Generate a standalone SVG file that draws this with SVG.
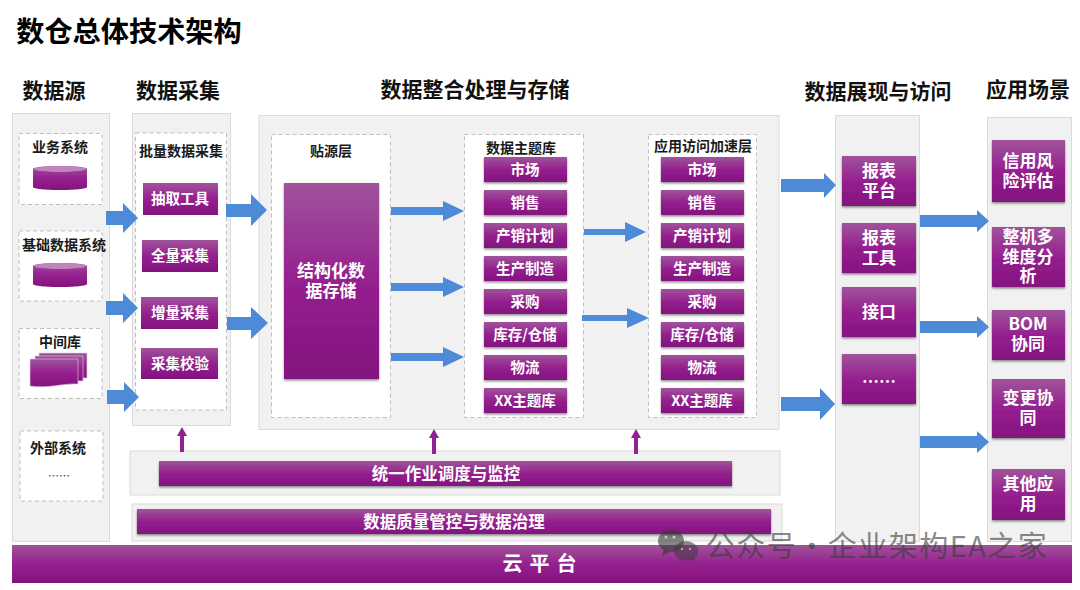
<svg xmlns="http://www.w3.org/2000/svg" width="1080" height="590" viewBox="0 0 1080 590">
<style>
text{font-family:"Noto Sans CJK SC","Liberation Sans",sans-serif;text-anchor:middle}
.panel{fill:#f1f1f1;stroke:#dadada;stroke-width:1}
.dash{fill:#fff;stroke:#bfbfbf;stroke-width:1;stroke-dasharray:4 3}
.btn{fill:url(#plum)}
.sh{filter:url(#lift)}
.head{font-size:21px;font-weight:700;fill:#111}
.sub{font-size:14px;font-weight:700;fill:#1a1a1a}
.w{fill:#fff;font-weight:700;font-size:14.500px}
.w2{fill:#fff;font-weight:700;font-size:17px}
.w3{fill:#fff;font-weight:700;font-size:16.500px}
.blue{fill:#4d8ad8}
.up{fill:#932191}
</style>
<defs>
<linearGradient id="plum" x1="0" y1="0" x2="0" y2="1">
<stop offset="0" stop-color="#a0549b"/><stop offset="0.5" stop-color="#95208f"/><stop offset="1" stop-color="#83127e"/>
</linearGradient>
<filter id="lift" x="-10%" y="-10%" width="120%" height="130%">
<feDropShadow dx="0" dy="1.5" stdDeviation="1" flood-color="#000" flood-opacity="0.45"/>
</filter>
<g id="cyl">
<path class="btn" d="M0 5C0 1 54 1 54 5V23C54 27 0 27 0 23Z"/>
<ellipse cx="27" cy="5" rx="26" ry="3" fill="#c184bd"/>
</g>
<path id="pg" class="btn" d="M0 0H48V25C32 24 18 30 0 27Z" stroke="#e6cfe5" stroke-width="0.6"/>
<g id="topics">
<rect class="btn sh" x="0" y="0" width="83" height="25"/><text class="w" x="41" y="18">市场</text>
<rect class="btn sh" x="0" y="33" width="83" height="25"/><text class="w" x="41" y="51">销售</text>
<rect class="btn sh" x="0" y="66" width="83" height="25"/><text class="w" x="41" y="84">产销计划</text>
<rect class="btn sh" x="0" y="99" width="83" height="25"/><text class="w" x="41" y="117">生产制造</text>
<rect class="btn sh" x="0" y="132" width="83" height="25"/><text class="w" x="41" y="150">采购</text>
<rect class="btn sh" x="0" y="165" width="83" height="25"/><text class="w" x="41" y="183">库存/仓储</text>
<rect class="btn sh" x="0" y="198" width="83" height="25"/><text class="w" x="41" y="216">物流</text>
<rect class="btn sh" x="0" y="231" width="83" height="25"/><text class="w" x="41" y="249">XX主题库</text>
</g>
</defs>
<rect width="1080" height="590" fill="#fff"/>
<text x="129" y="42" font-size="28.200" font-weight="700" fill="#000">数仓总体技术架构</text>
<g id="headings">
<text class="head" x="54" y="98">数据源</text>
<text class="head" x="178" y="98">数据采集</text>
<text class="head" x="475" y="97">数据整合处理与存储</text>
<text class="head" x="878" y="99">数据展现与访问</text>
<text class="head" x="1028" y="97">应用场景</text>
</g>
<g id="source">
<rect class="panel" x="12.500" y="113.500" width="97" height="428"/>
<rect class="dash" x="19" y="133.500" width="83" height="71"/>
<text class="sub" x="60" y="152">业务系统</text>
<use href="#cyl" x="33" y="164"/>
<rect class="dash" x="19" y="231" width="83" height="70"/>
<text class="sub" x="64" y="250">基础数据系统</text>
<use href="#cyl" x="33" y="261"/>
<rect class="dash" x="19" y="328.500" width="83" height="70"/>
<text class="sub" x="60" y="347">中间库</text>
<use href="#pg" x="39" y="353"/><use href="#pg" x="35" y="356"/><use href="#pg" x="30" y="359"/>
<rect class="dash" x="20" y="431" width="83" height="70"/>
<text class="sub" x="58" y="453">外部系统</text>
<text x="59" y="480" font-size="11" fill="#333">……</text>
</g>
<g id="collect">
<rect class="panel" x="132.500" y="113.500" width="98" height="312"/>
<rect class="dash" x="135.500" y="133" width="91" height="277"/>
<text class="sub" x="181" y="156">批量数据采集</text>
<rect class="btn" x="143" y="183" width="75" height="32"/><text class="w" x="180" y="204">抽取工具</text>
<rect class="btn" x="142" y="240" width="76" height="32"/><text class="w" x="180" y="261">全量采集</text>
<rect class="btn" x="141" y="297" width="77" height="32"/><text class="w" x="180" y="318">增量采集</text>
<rect class="btn" x="141" y="348" width="77" height="31"/><text class="w" x="180" y="369">采集校验</text>
</g>
<g id="integrate">
<rect class="panel" x="259" y="115.500" width="520" height="314"/>
<rect class="dash" x="271.500" y="134.500" width="119" height="283"/>
<text class="sub" x="331" y="156">贴源层</text>
<rect class="btn sh" x="284" y="183" width="95" height="196"/>
<text class="w2" x="331" y="277">结构化数<tspan x="331" dy="20">据存储</tspan></text>
<rect class="dash" x="464.500" y="134.500" width="119" height="283"/>
<text class="sub" x="521" y="153">数据主题库</text>
<use href="#topics" x="484" y="157"/>
<rect class="dash" x="648.500" y="134.500" width="108" height="283"/>
<text class="sub" x="703" y="151">应用访问加速层</text>
<use href="#topics" x="661" y="157"/>
</g>
<g id="display">
<rect class="panel" x="835.500" y="115.500" width="84" height="426"/>
<rect class="btn sh" x="842" y="156" width="74" height="50"/><text class="w2" x="879" y="177">报表<tspan x="879" dy="20">平台</tspan></text>
<rect class="btn sh" x="842" y="223" width="74" height="50"/><text class="w2" x="879" y="244">报表<tspan x="879" dy="20">工具</tspan></text>
<rect class="btn sh" x="842" y="287" width="74" height="50"/><text class="w2" x="879" y="318">接口</text>
<rect class="btn sh" x="842" y="354" width="74" height="50"/><text class="w2" x="879" y="388">……</text>
</g>
<g id="scenes">
<rect class="panel" x="987.500" y="117.500" width="84" height="424"/>
<rect class="btn sh" x="992" y="140" width="73" height="62"/><text class="w2" x="1028" y="167">信用风<tspan x="1028" dy="20">险评估</tspan></text>
<rect class="btn sh" x="992" y="227" width="73" height="60"/><text class="w2" x="1028" y="243">整机多<tspan x="1028" dy="19.500">维度分</tspan><tspan x="1028" dy="19.500">析</tspan></text>
<rect class="btn sh" x="992" y="310" width="73" height="50"/><text class="w2" x="1028" y="330">BOM<tspan x="1028" dy="20">协同</tspan></text>
<rect class="btn sh" x="992" y="379" width="73" height="59"/><text class="w2" x="1028" y="404">变更协<tspan x="1028" dy="20">同</tspan></text>
<rect class="btn sh" x="992" y="469" width="73" height="51"/><text class="w2" x="1028" y="490">其他应<tspan x="1028" dy="20">用</tspan></text>
</g>
<g id="scheduling">
<rect class="panel" x="130" y="451" width="650" height="44"/>
<rect class="btn sh" x="159" y="461" width="573" height="25"/>
<text class="w3" x="446" y="480">统一作业调度与监控</text>
</g>
<g id="governance">
<rect class="panel" x="132" y="504" width="650" height="37"/>
<rect class="btn sh" x="137" y="509" width="634" height="25"/>
<text class="w3" x="454" y="528">数据质量管控与数据治理</text>
</g>
<g id="cloud">
<rect class="btn" x="12" y="545" width="1060" height="38"/>
<text x="543" y="571" font-size="20" font-weight="700" fill="#fff" letter-spacing="7">云平台</text>
</g>
<g id="connectors">
<polygon class="blue" points="106,211 123,211 123,203 138,218 123,233 123,225 106,225"/>
<polygon class="blue" points="106,301 123,301 123,293 138,308 123,323 123,315 106,315"/>
<polygon class="blue" points="107,390 124,390 124,382 139,397 124,412 124,404 107,404"/>
<polygon class="blue" points="226,204 251,204 251,194 267,210 251,226 251,217 226,217"/>
<polygon class="blue" points="227,317 251,317 251,307 268,323 251,339 251,330 227,330"/>
<polygon class="blue" points="391,207 443,207 443,201 464,211 443,221 443,215 391,215"/>
<polygon class="blue" points="391,283 443,283 443,277 464,287 443,297 443,291 391,291"/>
<polygon class="blue" points="391,353 443,353 443,347 464,357 443,367 443,361 391,361"/>
<polygon class="blue" points="584,229 625,229 625,222 646,232 625,242 625,235 584,235"/>
<polygon class="blue" points="582,315 627,315 627,308 649,318 627,328 627,321 582,321"/>
<polygon class="blue" points="781,179 824,179 824,173 836,185 824,198 824,192 781,192"/>
<polygon class="blue" points="781,397 820,397 820,388 835,404 820,420 820,411 781,411"/>
<polygon class="blue" points="920,215 977,215 977,210 989,221 977,232 977,227 920,227"/>
<polygon class="blue" points="920,321 977,321 977,316 989,327 977,338 977,333 920,333"/>
<polygon class="blue" points="920,436 977,436 977,431 989,442 977,453 977,448 920,448"/>
<polygon class="up" points="180,452 180,436 177,436 182,427 187,436 184,436 184,452"/>
<polygon class="up" points="432,454 432,438 429,438 434,429 439,438 436,438 436,454"/>
<polygon class="up" points="634,454 634,438 631,438 636,429 641,438 638,438 638,454"/>
</g>
<g id="watermark" fill="#3a3a3a" fill-opacity="0.62">
<ellipse cx="671" cy="541" rx="13" ry="11"/><path d="M664 549l-2 7 8-4z"/>
<ellipse cx="686" cy="551" rx="12" ry="10" fill="#4a3a4a"/><path d="M691 558l4 5-1-7z" fill="#4a3a4a"/>
<circle cx="666" cy="537" r="1.500" fill="#fff"/><circle cx="674" cy="537" r="1.500" fill="#fff"/>
<circle cx="682" cy="549" r="1.200" fill="#ddd"/><circle cx="690" cy="549" r="1.200" fill="#ddd"/>
<text x="877" y="557" font-size="29" letter-spacing="1.500" font-family="Noto Sans CJK SC,sans-serif">公众号・企业架构EA之家</text>
</g>
</svg>
